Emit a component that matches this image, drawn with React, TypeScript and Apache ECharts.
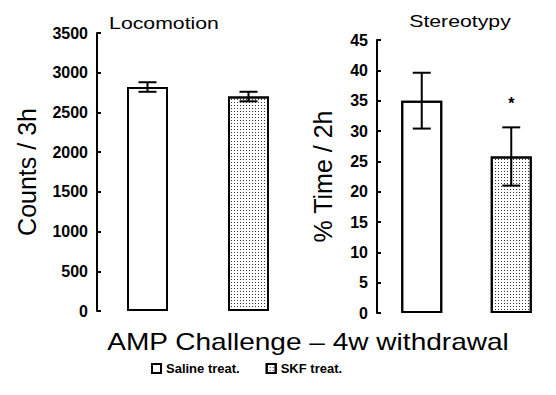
import React, { useEffect, useRef } from "react";
import * as echarts from "echarts";

const categories = ["Saline treat.", "SKF treat."];
const locoMeans = [2820, 2700];
const locoErrors = [60, 60];
const stereoMeans = [35, 25.8];
const stereoErrors = [4.6, 4.8];
const stereoMarks = ["", "*"];

const FONT = "'Liberation Sans', Arial, sans-serif";

const dotDecal = {
  symbol: "rect",
  symbolSize: 1,
  color: "#333",
  backgroundColor: "#fff",
  dashArrayX: [1, 2],
  dashArrayY: [1, 2],
  rotation: 0,
};

const barStyle = (i: number) => ({
  color: "#fff",
  borderColor: "#000",
  borderWidth: 2,
  decal: i === 1 ? dotDecal : { symbol: "none" },
});

function errorRender(marks: string[]) {
  return (params: any, api: any) => {
    const x = api.value(0);
    const y = api.value(1);
    const e = api.value(2);
    const top = api.coord([x, y + e]);
    const bot = api.coord([x, y - e]);
    const hw = 9;
    const st = { stroke: "#000", lineWidth: 2 };
    const children: any[] = [
      { type: "line", shape: { x1: top[0], y1: top[1], x2: bot[0], y2: bot[1] }, style: st },
      { type: "line", shape: { x1: top[0] - hw, y1: top[1], x2: top[0] + hw, y2: top[1] }, style: st },
      { type: "line", shape: { x1: bot[0] - hw, y1: bot[1], x2: bot[0] + hw, y2: bot[1] }, style: st },
    ];
    const m = marks[params.dataIndex];
    if (m) {
      children.push({
        type: "text",
        style: {
          text: m,
          x: top[0],
          y: top[1] - 24,
          textAlign: "center",
          textVerticalAlign: "middle",
          font: `bold 16px ${FONT}`,
          fill: "#000",
        },
      });
    }
    return { type: "group", children };
  };
}

export default function App() {
  const ref = useRef<HTMLDivElement>(null);
  useEffect(() => {
    if (!ref.current) return;
    const chart = echarts.init(ref.current, null, { renderer: "svg" });
    const yAxisCommon = {
      type: "value",
      nameLocation: "middle",
      nameRotate: 90,
      nameTextStyle: { fontSize: 25, color: "#000", fontFamily: FONT },
      axisLine: { show: true, lineStyle: { color: "#000", width: 2 } },
      axisTick: { show: true, inside: true, length: 4, lineStyle: { color: "#000", width: 2 } },
      axisLabel: {
        color: "#000",
        fontSize: 16,
        fontWeight: "bold",
        fontFamily: FONT,
        margin: 9,
        formatter: (v: number) => String(v),
      },
      splitLine: { show: false },
    };
    const xAxisCommon = {
      type: "category",
      data: categories,
      axisLine: { show: false },
      axisTick: { show: false },
      axisLabel: { show: false },
    };
    const saline = (arr: number[]) => arr.map((v, i) => (i === 0 ? { value: v, itemStyle: barStyle(0) } : "-"));
    const skf = (arr: number[]) => arr.map((v, i) => (i === 1 ? { value: v, itemStyle: barStyle(1) } : "-"));
    chart.setOption({
      animation: false,
      backgroundColor: "#fff",
      grid: [
        { left: 97, top: 33, width: 202, bottom: 84 },
        { left: 377, top: 40, width: 204, bottom: 82 },
      ],
      xAxis: [
        { ...xAxisCommon, gridIndex: 0 },
        { ...xAxisCommon, gridIndex: 1 },
      ],
      yAxis: [
        { ...yAxisCommon, gridIndex: 0, min: 0, max: 3500, interval: 500, name: "Counts / 3h", nameGap: 58 },
        { ...yAxisCommon, gridIndex: 1, min: 0, max: 45, interval: 5, name: "% Time / 2h", nameGap: 42 },
      ],
      legend: {
        left: 146,
        top: 357,
        itemWidth: 9,
        itemHeight: 9,
        itemGap: 26,
        icon: "rect",
        textStyle: { fontSize: 13, fontWeight: "bold", color: "#000", fontFamily: FONT },
        data: categories,
      },
      series: [
        { name: categories[0], type: "bar", xAxisIndex: 0, yAxisIndex: 0, barWidth: 41, barGap: "-100%", data: saline(locoMeans), itemStyle: barStyle(0) },
        { name: categories[1], type: "bar", xAxisIndex: 0, yAxisIndex: 0, barWidth: 41, barGap: "-100%", data: skf(locoMeans), itemStyle: barStyle(1) },
        { name: categories[0], type: "bar", xAxisIndex: 1, yAxisIndex: 1, barWidth: 41, barGap: "-100%", data: saline(stereoMeans), itemStyle: barStyle(0) },
        { name: categories[1], type: "bar", xAxisIndex: 1, yAxisIndex: 1, barWidth: 41, barGap: "-100%", data: skf(stereoMeans), itemStyle: barStyle(1) },
        {
          type: "custom",
          xAxisIndex: 0,
          yAxisIndex: 0,
          renderItem: errorRender(["", ""]),
          encode: { x: 0, y: 1 },
          data: locoMeans.map((v, i) => [i, v, locoErrors[i]]),
          z: 5,
        },
        {
          type: "custom",
          xAxisIndex: 1,
          yAxisIndex: 1,
          renderItem: errorRender(stereoMarks),
          encode: { x: 0, y: 1 },
          data: stereoMeans.map((v, i) => [i, v, stereoErrors[i]]),
          z: 5,
        },
      ],
      graphic: [
        {
          type: "text",
          x: 164,
          y: 23,
          scaleX: 1.25,
          style: { text: "Locomotion", textAlign: "center", textVerticalAlign: "middle", font: `17px ${FONT}`, fill: "#000" },
        },
        {
          type: "text",
          x: 460,
          y: 21,
          scaleX: 1.25,
          style: { text: "Stereotypy", textAlign: "center", textVerticalAlign: "middle", font: `17px ${FONT}`, fill: "#000" },
        },
        {
          type: "text",
          x: 308,
          y: 342,
          scaleX: 1.22,
          style: { text: "AMP Challenge – 4w withdrawal", textAlign: "center", textVerticalAlign: "middle", font: `23px ${FONT}`, fill: "#000" },
        },
      ],
    });
    return () => chart.dispose();
  }, []);
  return <div ref={ref} style={{ position: "fixed", left: 0, top: 0, width: 556, height: 395 }} />;
}
